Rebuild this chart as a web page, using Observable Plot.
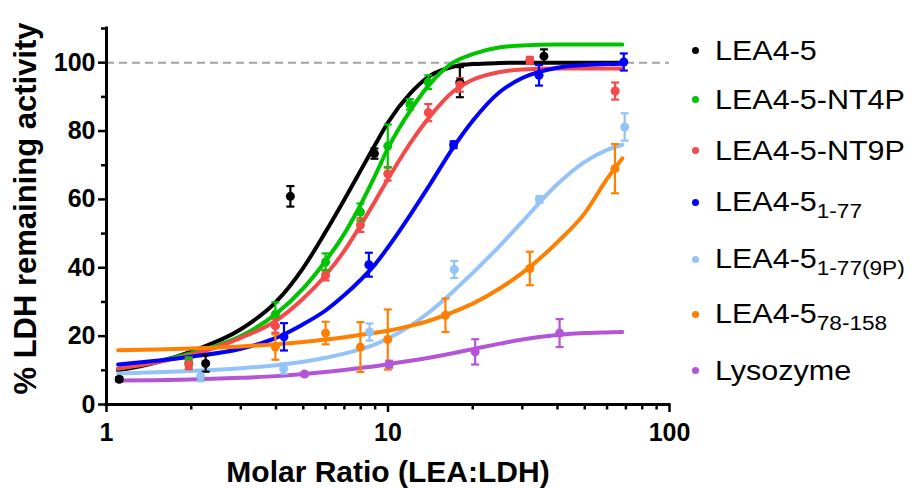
<!DOCTYPE html>
<html>
<head>
<meta charset="utf-8">
<script src="https://cdn.jsdelivr.net/npm/d3@7"></script>
<script src="https://cdn.jsdelivr.net/npm/@observablehq/plot@0.6"></script>
<style>
  html, body { margin: 0; padding: 0; background: #fff; }
  #chart { position: relative; width: 911px; height: 489px; }
  #legend { position: absolute; left: 0; top: 0; width: 911px; height: 0; font-family: "Liberation Sans", Arial, sans-serif; color: #000; }
  .row { position: absolute; left: 0; white-space: nowrap; }
  .swatch { position: absolute; width: 7px; height: 7px; border-radius: 50%; }
  .label { position: absolute; display: inline-block; font-size: 27px; line-height: 1; transform: scaleX(1.13); transform-origin: left center; }
  .label .sub { font-size: 20px; vertical-align: -7px; }
</style>
</head>
<body>
<div id="chart"><div id="legend"></div></div>
<script>
// Series shown in the chart, in drawing / legend order
const seriesNames = ["LEA4-5", "LEA4-5-NT4P", "LEA4-5-NT9P", "LEA4-5 1-77", "LEA4-5 1-77(9P)", "LEA4-5 78-158", "Lysozyme"];
const legendMain = ["LEA4-5", "LEA4-5-NT4P", "LEA4-5-NT9P", "LEA4-5", "LEA4-5", "LEA4-5", "Lysozyme"];
const legendSub = ["", "", "", "1-77", "1-77(9P)", "78-158", ""];
const seriesColors = ["#000000", "#00c400", "#f44a4a", "#0000ff", "#93c3f7", "#ff8000", "#b455d6"];

// Axis ticks
const xMajor = [1, 10, 100];
const xMinor = [2, 3, 4, 5, 6, 7, 8, 9, 20, 30, 40, 50, 60, 70, 80, 90];
const yMajor = [0, 20, 40, 60, 80, 100];
const yMinor = [10, 30, 50, 70, 90, 110];
const xDomain = [1, 100];
const yDomain = [0, 110];
const fullActivity = [100];

const xTitle = "Molar Ratio (LEA:LDH)";
const yTitle = "% LDH remaining activity";

// Measured activity: molar ratio, mean and SEM per protein
const lea45Ratio = [1.11, 2.25, 4.5, 8.95, 18, 35.8];
const lea45Mean  = [7.4, 12, 60.9, 73.4, 94.3, 101.9];
const lea45Sem   = [0.6, 2.4, 3, 1.5, 4.4, 2];

const nt4pRatio = [1.96, 3.98, 6.0, 7.98, 9.98, 11.96, 13.9];
const nt4pMean  = [12.3, 26.4, 41.7, 56.3, 75.6, 87.8, 94.3];
const nt4pSem   = [1.5, 3.5, 2.5, 2.5, 6.3, 1.5, 2];

const nt9pRatio = [1.96, 3.98, 6.0, 7.98, 9.98, 13.9, 18, 31.9, 64.1];
const nt9pMean  = [11.8, 23, 37.8, 52.5, 67.5, 85.4, 93.5, 100.7, 91.7];
const nt9pSem   = [1.5, 2, 1.5, 2, 2, 2.5, 2, 1, 2.5];

const n77Ratio = [4.27, 8.55, 17.1, 34.4, 68.8];
const n77Mean  = [19.8, 40.9, 76, 96.3, 100.2];
const n77Sem   = [4, 3.5, 1, 3, 2.5];

const n77pRatio = [2.16, 4.26, 8.6, 17.2, 34.5, 69.3];
const n77pMean  = [8.3, 10.5, 21.2, 39.5, 60, 81.2];
const n77pSem   = [1.5, 1.5, 2.5, 2.5, 1, 4];

const c78Ratio = [3.98, 6.0, 7.98, 9.98, 16, 31.9, 64];
const c78Mean  = [16.8, 20.9, 16.8, 19, 26.1, 39.8, 69];
const c78Sem   = [3.7, 3.3, 7.3, 8.8, 4.9, 4.9, 7.2];

const lysRatio = [5.05, 10.1, 20.4, 40.7];
const lysMean  = [8.9, 11.8, 15.4, 20.9];
const lysSem   = [0.5, 1, 3.7, 4.1];

// Dose-response fit curves, sampled at these molar ratios
const fitRatio = [1.1, 1.5, 2, 3, 4, 5, 6, 7, 8, 9, 10, 12, 14, 17, 20, 25, 30, 40, 50, 60, 68];
const lea45Fit = [10, 12.3, 15.5, 22, 30, 40, 50.5, 60, 68.5, 76, 82.5, 91, 96, 98.8, 99.6, 99.9, 100, 100, 100, 100, 100];
const nt4pFit  = [10.5, 12.5, 15, 20, 26.5, 34, 42, 50, 58.5, 67, 75, 86, 93.5, 100, 102.5, 104.5, 105, 105.3, 105.3, 105.3, 105.3];
const nt9pFit  = [10.5, 12.3, 14.5, 19.5, 24.5, 31, 37.8, 45, 52.5, 59.5, 66, 76.5, 84, 91.5, 95, 97.3, 98, 98.3, 98.3, 98.3, 98.3];
const n77Fit   = [11.7, 12.8, 14, 16.3, 19.5, 23.5, 27.5, 32, 36.5, 41, 46, 55.5, 64, 75, 83, 91.5, 95.5, 98.5, 99.3, 99.6, 99.7];
const n77pFit  = [9.1, 9.4, 9.8, 10.6, 11.5, 12.5, 13.7, 14.9, 16.2, 17.6, 19.3, 23, 27, 33, 38.5, 46.5, 53.5, 64.5, 71, 74.5, 76];
const c78Fit   = [15.9, 16.1, 16.4, 17, 17.6, 18.3, 19, 19.7, 20.4, 21, 21.6, 23, 24.5, 27, 29.5, 34, 38.5, 47.5, 56, 66, 72];
const lysFit   = [7.0, 7.1, 7.3, 7.8, 8.3, 8.9, 9.5, 10.1, 10.7, 11.2, 11.8, 12.8, 13.7, 15, 16.2, 17.8, 19, 20.3, 20.9, 21.1, 21.2];

const sets = [
  [lea45Ratio, lea45Mean, lea45Sem, lea45Fit],
  [nt4pRatio, nt4pMean, nt4pSem, nt4pFit],
  [nt9pRatio, nt9pMean, nt9pSem, nt9pFit],
  [n77Ratio, n77Mean, n77Sem, n77Fit],
  [n77pRatio, n77pMean, n77pSem, n77pFit],
  [c78Ratio, c78Mean, c78Sem, c78Fit],
  [lysRatio, lysMean, lysSem, lysFit]
];

const points = [];
const curves = [];
sets.forEach(([ratio, mean, sem, fit], i) => {
  const series = seriesNames[i];
  ratio.forEach((r, j) => points.push({series, ratio: r, mean: mean[j], sem: sem[j]}));
  fitRatio.forEach((r, j) => curves.push({series, ratio: r, value: fit[j]}));
});

// Horizontal bar used as the error-bar cap
const capSymbol = {
  draw(context, size) {
    const w = Math.sqrt(size / Math.PI);
    context.moveTo(-w, 0);
    context.lineTo(w, 0);
  }
};

const font = "Liberation Sans, Arial, sans-serif";

const chart = Plot.plot({
  width: 911,
  height: 489,
  marginLeft: 106,
  marginRight: 242,
  marginTop: 28,
  marginBottom: 85,
  x: {type: "log", domain: xDomain},
  y: {domain: yDomain},
  color: {domain: seriesNames, range: seriesColors},
  style: {fontFamily: font, fontWeight: "bold", background: "transparent", overflow: "visible", color: "#000"},
  marks: [
    Plot.ruleY(fullActivity, {stroke: "#a3a3a3", strokeWidth: 2, strokeDasharray: "8,5"}),
    Plot.line(curves, {x: "ratio", y: "value", z: "series", stroke: "series", strokeWidth: 4, curve: "monotone-x"}),
    Plot.ruleX(points, {x: "ratio", y1: d => d.mean - d.sem, y2: d => d.mean + d.sem, stroke: "series", strokeWidth: 2.2}),
    Plot.dot(points, {x: "ratio", y: d => d.mean + d.sem, symbol: capSymbol, r: 4, fill: "none", stroke: "series", strokeWidth: 2.2}),
    Plot.dot(points, {x: "ratio", y: d => d.mean - d.sem, symbol: capSymbol, r: 4, fill: "none", stroke: "series", strokeWidth: 2.2}),
    Plot.dot(points, {x: "ratio", y: "mean", fill: "series", r: 4.5}),
    // axis lines
    Plot.ruleX([xDomain[0]], {y1: yDomain[0], y2: yDomain[1], strokeWidth: 3, strokeLinecap: "square"}),
    Plot.ruleY([yDomain[0]], {x1: xDomain[0], x2: xDomain[1], strokeWidth: 3, strokeLinecap: "square"}),
    Plot.axisY({ticks: yMajor, tickSize: 8, tickPadding: 3, strokeWidth: 2.5, fontSize: 25, fontWeight: "bold", tickFormat: d => String(d), label: null}),
    Plot.axisY({ticks: yMinor, tickSize: 5, strokeWidth: 2.5, tickFormat: () => "", label: null}),
    Plot.axisX({ticks: xMajor, tickSize: 8, tickPadding: 11, strokeWidth: 2.5, fontSize: 25, fontWeight: "bold", tickFormat: d => String(d), label: null}),
    Plot.axisX({ticks: xMinor, tickSize: 5.5, strokeWidth: 2.5, tickFormat: () => "", label: null}),
    Plot.text([xTitle], {frameAnchor: "bottom", textAnchor: "middle", lineAnchor: "top", dy: 56, fontSize: 30, fontWeight: "bold", text: d => d}),
    Plot.text([yTitle], {frameAnchor: "left", textAnchor: "middle", rotate: -90, lineAnchor: "top", dx: -93, dy: -8, fontSize: 31, fontWeight: "bold", text: d => d})
  ]
});

const host = document.getElementById("chart");
host.insertBefore(chart, host.firstChild);

// Legend, to the right of the plot area
const legendRowY = [50.8, 99.7, 150.8, 202.5, 259.2, 314.2, 370.8];
const legend = document.getElementById("legend");
seriesNames.forEach((name, i) => {
  const row = document.createElement("div");
  row.className = "row";
  row.style.top = legendRowY[i] + "px";
  const sw = document.createElement("span");
  sw.className = "swatch";
  sw.style.background = seriesColors[i];
  sw.style.left = (695 - 3.5) + "px";
  sw.style.top = "-3.5px";
  const lab = document.createElement("span");
  lab.className = "label";
  lab.style.left = "715px";
  lab.style.top = (-0.4885 * 27) + "px";
  lab.appendChild(document.createTextNode(legendMain[i]));
  if (legendSub[i]) {
    const s = document.createElement("span");
    s.className = "sub";
    s.textContent = legendSub[i];
    lab.appendChild(s);
  }
  row.appendChild(sw);
  row.appendChild(lab);
  legend.appendChild(row);
});
</script>
</body>
</html>
